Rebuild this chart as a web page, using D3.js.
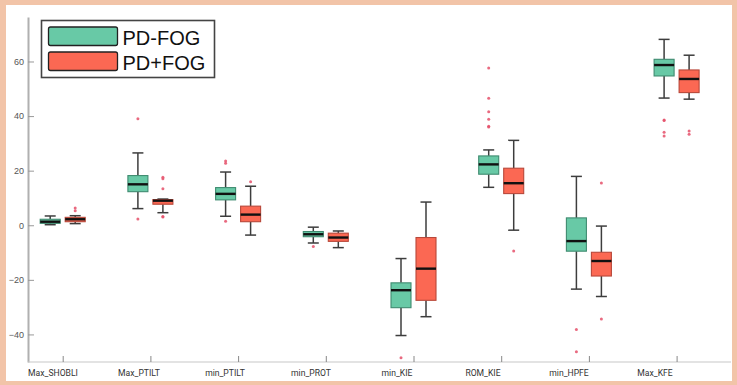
<!DOCTYPE html>
<html>
<head>
<meta charset="utf-8">
<script src="https://cdn.jsdelivr.net/npm/d3@7"></script>
<style>
  html, body { margin: 0; padding: 0; background: #ffffff; }
  svg { display: block; }
</style>
</head>
<body>
<svg id="chart" width="737" height="385"></svg>
<script>
// Gait variables on the x axis
const categories = ["Max_SHOBLI", "Max_PTILT", "min_PTILT", "min_PROT", "min_KIE", "ROM_KIE", "min_HPFE", "Max_KFE"];
const seriesNames = ["PD-FOG", "PD+FOG"];
const yTicks = [-40, -20, 0, 20, 40, 60];

// Box summaries per category: [lower whisker, Q1, median, Q3, upper whisker]
const pdNoFog = [
  [0.2, 0.7, 1.3, 2.2, 3.4],
  [6.1, 12.3, 15.0, 18.2, 26.5],
  [3.3, 9.3, 11.5, 13.8, 19.5],
  [-6.5, -4.2, -3.3, -2.3, -0.7],
  [-40.4, -30.2, -23.8, -21.1, -12.2],
  [13.9, 18.7, 22.3, 25.4, 27.6],
  [-23.4, -9.5, -5.8, 2.7, 17.9],
  [46.6, 54.7, 58.7, 60.8, 68.1]
];
const pdFog = [
  [0.6, 1.3, 2.2, 2.9, 3.5],
  [4.6, 7.7, 9.0, 9.4, 9.6],
  [-3.6, 1.3, 3.9, 7.0, 14.3],
  [-8.2, -5.9, -4.5, -2.9, -2.1],
  [-33.5, -27.5, -15.9, -4.5, 8.5],
  [-1.8, 11.6, 15.4, 20.9, 31.1],
  [-26.1, -18.6, -13.1, -9.9, -0.3],
  [46.2, 48.6, 53.6, 56.9, 62.3]
];

// Outliers per category
const pdNoFogOutliers = [
  [],
  [39.0, 2.3],
  [23.5, 22.7, 1.5],
  [-7.8],
  [-48.5],
  [57.6, 46.5, 41.6, 38.8, 36.0, 36.3],
  [-38.2, -46.3],
  [38.6, 38.4, 34.1, 32.7]
];
const pdFogOutliers = [
  [5.3, 6.3],
  [17.6, 17.0, 13.4, 3.2, 3.0],
  [15.9],
  [],
  [],
  [-9.4],
  [15.5, -34.3],
  [34.5, 33.3]
];

const colors = {
  fill: ["#68c9a6", "#fb6853"],
  edge: ["#3f8b70", "#b8483a"]
};

const svg = d3.select("#chart");
const W = 737, H = 385;

// Frame
svg.append("rect").attr("width", W).attr("height", H).attr("fill", "#f2c4a8");
svg.append("rect").attr("x", 6).attr("y", 5).attr("width", 726).attr("height", 376).attr("fill", "#ffffff");

const y = d3.scaleLinear().domain([-50.1, 76.3]).range([362, 17]);
const x = d3.scalePoint().domain(categories).range([62.7, 676.6]);
const xLabel = d3.scalePoint().domain(categories).range([53, 655]);
const offset = 12.5, boxW = 20, capW = 11;

// Y axis, ticks pointing inward
const yAxis = svg.append("g")
  .attr("transform", "translate(28,0)")
  .call(d3.axisLeft(y).tickValues(yTicks).tickSizeInner(-6).tickSizeOuter(0).tickPadding(4));
yAxis.select(".domain").attr("stroke", "#b0b0b0").attr("stroke-width", 2);
yAxis.selectAll(".tick line").attr("stroke", "#999").attr("stroke-width", 1);
yAxis.selectAll(".tick text").attr("fill", "#555").style("font-family", "Liberation Sans, Arial, sans-serif").style("font-size", "9px");

// X axis, ticks pointing up, labels drawn separately
const xAxis = svg.append("g")
  .attr("transform", "translate(0,362)")
  .call(d3.axisBottom(x).tickSizeInner(-6).tickSizeOuter(0).tickFormat(""));
xAxis.select(".domain").attr("d", `M28,0H731`).attr("stroke", "#c8c8c8").attr("stroke-width", 1.2);
xAxis.selectAll(".tick line").attr("stroke", "#888").attr("stroke-width", 1);

svg.append("g").selectAll("text")
  .data(categories)
  .join("text")
  .attr("x", d => xLabel(d))
  .attr("y", 376)
  .attr("text-anchor", "middle")
  .attr("fill", "#333")
  .style("font-family", "Roboto, Liberation Sans, sans-serif")
  .style("font-size", "8.6px")
  .text(d => d);

// Box plots
const series = [
  { stats: pdNoFog, outliers: pdNoFogOutliers, dx: -offset },
  { stats: pdFog, outliers: pdFogOutliers, dx: offset }
];

series.forEach((s, si) => {
  const g = svg.append("g");
  categories.forEach((cat, ci) => {
    const [lo, q1, med, q3, hi] = s.stats[ci];
    const cx = x(cat) + s.dx;
    const bg = g.append("g");
    const wc = "#3d3d3d";
    // whiskers
    bg.append("line").attr("x1", cx).attr("x2", cx).attr("y1", y(q3)).attr("y2", y(hi))
      .attr("stroke", wc).attr("stroke-width", 1.5);
    bg.append("line").attr("x1", cx).attr("x2", cx).attr("y1", y(q1)).attr("y2", y(lo))
      .attr("stroke", wc).attr("stroke-width", 1.5);
    bg.append("line").attr("x1", cx - capW / 2).attr("x2", cx + capW / 2).attr("y1", y(hi)).attr("y2", y(hi))
      .attr("stroke", wc).attr("stroke-width", 1.5);
    bg.append("line").attr("x1", cx - capW / 2).attr("x2", cx + capW / 2).attr("y1", y(lo)).attr("y2", y(lo))
      .attr("stroke", wc).attr("stroke-width", 1.5);
    // box
    bg.append("rect")
      .attr("x", cx - boxW / 2).attr("y", y(q3))
      .attr("width", boxW).attr("height", Math.max(y(q1) - y(q3), 1))
      .attr("fill", colors.fill[si]).attr("stroke", colors.edge[si]).attr("stroke-width", 1.1);
    // median
    bg.append("line").attr("x1", cx - boxW / 2).attr("x2", cx + boxW / 2).attr("y1", y(med)).attr("y2", y(med))
      .attr("stroke", "#111").attr("stroke-width", 2.4);
    // outliers
    bg.selectAll("circle").data(s.outliers[ci]).join("circle")
      .attr("cx", cx).attr("cy", d => y(d)).attr("r", 1.5)
      .attr("fill", "#e5506a").attr("opacity", 0.85);
  });
});

// Legend
const lg = svg.append("g");
lg.append("rect").attr("x", 41.5).attr("y", 20.5).attr("width", 173).attr("height", 57)
  .attr("fill", "#fff").attr("stroke", "#444").attr("stroke-width", 1.6);
seriesNames.forEach((name, i) => {
  lg.append("rect").attr("x", 48.5).attr("y", 27 + i * 25).attr("width", 69).attr("height", 18.5)
    .attr("rx", 2).attr("fill", colors.fill[i]).attr("stroke", "#222").attr("stroke-width", 1.3);
  lg.append("text").attr("x", 122.5).attr("y", 45 + i * 24.5)
    .attr("fill", "#111")
    .style("font-family", "Liberation Sans, Arial, sans-serif").style("font-size", "20px")
    .text(name);
});
</script>
</body>
</html>
